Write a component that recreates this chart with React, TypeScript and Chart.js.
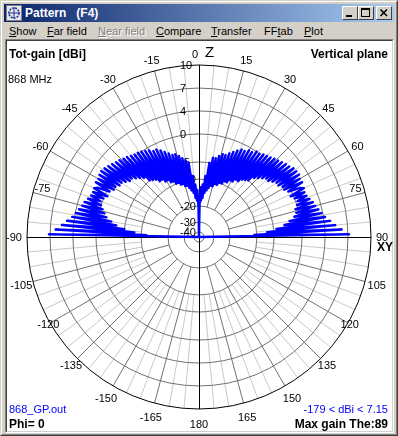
import React, { useEffect, useRef } from 'react';
import { Chart, registerables } from 'chart.js';

Chart.register(...registerables);

const FONT = '"Liberation Sans", Arial, sans-serif';

// ---------------- data ----------------
// Total gain [dBi] in the vertical plane (Phi = 0), 1 degree steps.
// Right half: theta = 0 .. 89
const gainRight = [
  -179, -20, -13, -18, -12, -17, -9, -15, -5, -14,
  -4, -13, -4, -12, -3.5, -12, -3, -11, -3, -11,
  -2.5, -10, -2, -10, -1.5, -9, -1, -9, -1, -8,
  -0.5, -8, -0.5, -7, 0, -7, 0, -6, 0.3, -5.5,
  0.5, -5, 0.7, -4, 1, -3.5, 1.2, -3, 1.5, -2.5,
  1.8, -2.5, 2, -2, 2.4, -1.5, 2.5, -1.5, 2.6, -1,
  2.3, -1, 2.4, -0.5, 1.5, 2.2, -0.5, 2, 0, 2.1,
  0.3, 2.4, 0, 2.8, -0.5, 3, -0.5, 3.4, -1, 3.8,
  -2, 4.2, -3, 4.8, -4.5, 5.4, -7, 6.2, -11, 7.15,
];
// Left half: theta = -1 .. -89
const gainLeft = [
  -20, -14, -18, -12, -17, -9, -15, -5, -14,
  -4.5, -13, -4, -12, -3.5, -12, -3, -11, -3, -11,
  -2.5, -10, -2, -10, -1.5, -9, -1, -9, -1, -8,
  -0.5, -8, -0.3, -7, 0, -7, 0.2, -6, 0.3, -5.5,
  0.5, -5, 0.8, -4, 1, -3.5, 1.3, -3, 1.5, -2.5,
  1.8, -2.5, 2.1, -2, 2.4, -1.5, 2.6, -1.5, 2.5, -1,
  2.3, -1, 2.4, -0.5, 1.6, 2.2, -0.5, 2.1, 0, 2.2,
  0.3, 2.5, 0, 2.9, -0.5, 3.1, -1, 3.5, -1.5, 3.9,
  -2.5, 4.3, -3.5, 4.9, -5, 5.5, -8, 6.3, -12, 7.15,
];
const minGain = -179; // below the horizon (theta 90 .. 270)
const maxGain = 7.15;
const maxGainTheta = 89;
const phiValue = 0;
const freqText = '868 MHz';
const fileName = '868_GP.out';

// radial grid (dBi) and angular ticks (degrees)
const gridDb = [-40, -30, -20, -10, -5, 0, 4, 7, 10];
const angleTicks = [0, 15, 30, 45, 60, 75, 90, 105, 120, 135, 150, 165, 180, -165, -150, -135, -120, -105, -90, -75, -60, -45, -30, -15];

// plot scale: dBi -> fraction of outer radius (as drawn by the program)
const scaleDb = [-50, -40, -30, -20, -10, -5, 0, 4, 7, 10];
const scaleFrac = [0, 0.029, 0.087, 0.18, 0.337, 0.436, 0.599, 0.733, 0.866, 1];

function dbToR(db: number): number {
  if (db <= scaleDb[0]) return 0;
  if (db >= scaleDb[scaleDb.length - 1]) return 1;
  for (let i = 1; i < scaleDb.length; i++) {
    if (db <= scaleDb[i]) {
      const t = (db - scaleDb[i - 1]) / (scaleDb[i] - scaleDb[i - 1]);
      return scaleFrac[i - 1] + t * (scaleFrac[i] - scaleFrac[i - 1]);
    }
  }
  return 1;
}

// label distance outside the outer circle, by |angle| ([gap, dy])
const labelGap: Record<number, [number, number]> = {
  15: [11, 0], 30: [10, 0], 45: [11, 0], 60: [11, 0], 75: [-10, -7], 105: [12, 0], 120: [2, 0],
  135: [9, 0], 150: [14, 0], 165: [14, 0], 180: [15, 0],
};

const polarDecor = {
  id: 'polarDecor',
  beforeDraw(chart: any) {
    const s = chart.scales.r;
    const ctx = chart.ctx;
    ctx.save();
    ctx.lineWidth = 1;
    for (let a = 5; a < 360; a += 5) {
      if (a % 90 === 0) continue;
      const major = a % 15 === 0;
      const p0 = s.getPointPositionForValue(a, dbToR(major ? -20 : -10));
      const p1 = s.getPointPositionForValue(a, 1);
      ctx.strokeStyle = major ? '#707070' : '#c8c8c8';
      ctx.beginPath();
      ctx.moveTo(p0.x, p0.y);
      ctx.lineTo(p1.x, p1.y);
      ctx.stroke();
    }
    ctx.restore();
  },
  beforeDatasetsDraw(chart: any) {
    const s = chart.scales.r;
    const ctx = chart.ctx;
    const cx = s.xCenter;
    const cy = s.yCenter;
    const R = s.drawingArea;
    ctx.save();
    // axes
    ctx.strokeStyle = '#000';
    ctx.lineWidth = 1;
    ctx.beginPath();
    ctx.moveTo(cx + 0.5, cy - R);
    ctx.lineTo(cx + 0.5, cy + R);
    ctx.moveTo(cx - R, cy + 0.5);
    ctx.lineTo(cx + R, cy + 0.5);
    ctx.stroke();

    // radial tick labels
    ctx.fillStyle = '#000';
    ctx.font = '11px ' + FONT;
    ctx.textAlign = 'left';
    ctx.textBaseline = 'middle';
    gridDb.forEach((d) => {
      const r = s.getDistanceFromCenterForValue(dbToR(d));
      ctx.fillText(String(d), cx - 19, cy - r + 1);
    });

    // angle labels
    angleTicks.forEach((a) => {
      const idx = ((a % 360) + 360) % 360;
      if (a === 0) {
        const p = s.getPointPosition(idx, R + 12);
        ctx.textAlign = 'right';
        ctx.font = '11px ' + FONT;
        ctx.fillText('0', p.x - 1, p.y + 2);
        ctx.textAlign = 'left';
        ctx.font = '15px ' + FONT;
        ctx.fillText('Z', p.x + 6, p.y);
        return;
      }
      if (a === 90) {
        const p = s.getPointPosition(idx, R + 5);
        ctx.textAlign = 'left';
        ctx.font = '11px ' + FONT;
        ctx.fillText('90', p.x, p.y + 1);
        ctx.font = 'bold 12px ' + FONT;
        ctx.fillText('XY', p.x + 1, p.y + 11);
        return;
      }
      const [gap, dy] = a === -90 ? [13, 0] : (labelGap[Math.abs(a)] ?? [11, 0]);
      const p = s.getPointPosition(idx, R + gap);
      ctx.textAlign = 'center';
      ctx.font = '11px ' + FONT;
      ctx.fillText(String(a), p.x, p.y + 1 + dy);
    });
    ctx.restore();
  },
};

function Txt(props: any) {
  const { x, base, size = 11, bold = false, color = '#000', align = 'left', children, extra } = props;
  const style: any = {
    position: 'absolute',
    top: base - 0.8465 * size,
    fontSize: size,
    lineHeight: size + 'px',
    fontWeight: bold ? 700 : 400,
    color,
    fontFamily: FONT,
    whiteSpace: 'pre',
    ...(extra || {}),
  };
  if (align === 'right') style.right = 398 - x;
  else style.left = x;
  return <div style={style}>{children}</div>;
}

const menuItems = [
  { t: 'Show', x: 9, u: 0 },
  { t: 'Far field', x: 47, u: 0 },
  { t: 'Near field', x: 98, u: 0, off: true },
  { t: 'Compare', x: 156, u: 0 },
  { t: 'Transfer', x: 211, u: 0 },
  { t: 'FFtab', x: 264, u: 2 },
  { t: 'Plot', x: 304, u: 0 },
];

function CapBtn({ x, kind }: { x: number; kind: string }) {
  return (
    <div
      style={{
        position: 'absolute', left: x, top: 6, width: 16, height: 14, boxSizing: 'border-box',
        background: '#D4D0C8', borderTop: '1px solid #fff', borderLeft: '1px solid #fff',
        borderRight: '1px solid #404040', borderBottom: '1px solid #404040',
      }}
    >
      <svg width="14" height="12" style={{ position: 'absolute', left: 0, top: 0 }}>
        {kind === 'min' && <rect x="3" y="8" width="6" height="2" fill="#000" />}
        {kind === 'max' && (
          <g>
            <rect x="2.5" y="1.5" width="8" height="8" fill="none" stroke="#000" />
            <rect x="2" y="1" width="9" height="2" fill="#000" />
          </g>
        )}
        {kind === 'close' && (
          <g stroke="#000" strokeWidth="1.6">
            <line x1="3.5" y1="2.5" x2="10" y2="9" />
            <line x1="10" y1="2.5" x2="3.5" y2="9" />
          </g>
        )}
      </svg>
    </div>
  );
}

export default function App() {
  const ref = useRef<HTMLCanvasElement | null>(null);

  useEffect(() => {
    document.body.style.margin = '0';
    const labels = Array.from({ length: 360 }, (_, i) => String(i));
    const gains = labels.map((_, i) => {
      if (i <= 89) return gainRight[i];
      if (i >= 271) return gainLeft[360 - i - 1];
      return minGain;
    });
    const chart = new Chart(ref.current as HTMLCanvasElement, {
      type: 'radar',
      data: {
        labels,
        datasets: [
          {
            data: gains.map(dbToR),
            borderColor: '#0000FF',
            borderWidth: 2.4,
            borderJoinStyle: 'round',
            pointRadius: 0,
            pointHoverRadius: 0,
            fill: false,
            tension: 0,
          } as any,
        ],
      },
      options: {
        responsive: false,
        animation: false,
        devicePixelRatio: 1,
        layout: { padding: { left: 27, right: 27, top: 65, bottom: 27 } },
        plugins: { legend: { display: false }, tooltip: { enabled: false } },
        scales: {
          r: {
            min: 0,
            max: 1,
            angleLines: { display: false },
            pointLabels: { display: false },
            ticks: { display: false },
            grid: {
              circular: true,
              lineWidth: 1,
              color: (c: any) => (c.tick && c.tick.value >= 0.999 ? '#000000' : '#707070'),
            },
            afterBuildTicks: (scale: any) => {
              scale.ticks = [{ value: 0 }, ...gridDb.map((d) => ({ value: dbToR(d) }))];
            },
          } as any,
        },
      },
      plugins: [polarDecor],
    });
    return () => chart.destroy();
  }, []);

  return (
    <div style={{ position: 'fixed', left: 0, top: 0, width: 398, height: 436, background: '#D4D0C8', overflow: 'hidden', fontFamily: FONT }}>
      {/* window frame */}
      <div style={{ position: 'absolute', left: 0, top: 0, width: 398, height: 436, boxSizing: 'border-box', borderTop: '1px solid #D4D0C8', borderLeft: '1px solid #D4D0C8', borderRight: '1px solid #404040', borderBottom: '1px solid #404040' }} />
      <div style={{ position: 'absolute', left: 1, top: 1, width: 396, height: 434, boxSizing: 'border-box', borderTop: '1px solid #fff', borderLeft: '1px solid #fff', borderRight: '1px solid #808080', borderBottom: '1px solid #808080' }} />
      {/* title bar */}
      <div style={{ position: 'absolute', left: 4, top: 4, width: 390, height: 18, background: 'linear-gradient(to right, #0A246A, #A6CAF0)' }} />
      <div style={{ position: 'absolute', left: 6, top: 5, width: 16, height: 16, background: '#E8E8E8', boxSizing: 'border-box', border: '1px solid #808080' }}>
        <svg width="14" height="14" style={{ position: 'absolute', left: 0, top: 0 }}>
          <circle cx="7" cy="7" r="5" fill="none" stroke="#2030A0" strokeWidth="1.5" strokeDasharray="2 1" />
          <line x1="7" y1="1" x2="7" y2="13" stroke="#2030A0" />
          <line x1="1" y1="7" x2="13" y2="7" stroke="#2030A0" />
        </svg>
      </div>
      <Txt x={25} base={17} size={12} bold color="#fff">{'Pattern   (F4)'}</Txt>
      <CapBtn x={342} kind="min" />
      <CapBtn x={358} kind="max" />
      <CapBtn x={376} kind="close" />
      {/* menu bar */}
      {menuItems.map((m) => (
        <Txt key={m.t} x={m.x} base={35.5} size={11} color={m.off ? '#808080' : '#000'} extra={m.off ? { textShadow: '1px 1px 0 #fff' } : undefined}>
          {m.t.slice(0, m.u)}
          <span style={{ textDecoration: 'underline' }}>{m.t.charAt(m.u)}</span>
          {m.t.slice(m.u + 1)}
        </Txt>
      ))}
      {/* client area */}
      <div style={{ position: 'absolute', left: 5, top: 39, width: 389, height: 394, boxSizing: 'border-box', borderTop: '1px solid #808080', borderLeft: '1px solid #808080', borderRight: '1px solid #fff', borderBottom: '1px solid #fff' }}>
        <div style={{ position: 'absolute', left: 0, top: 0, right: 0, bottom: 0, background: '#fff', borderTop: '1px solid #404040', borderLeft: '1px solid #404040', borderRight: '1px solid #D4D0C8', borderBottom: '1px solid #D4D0C8' }} />
      </div>
      <canvas ref={ref} width={398} height={436} style={{ position: 'absolute', left: 0, top: 0, width: 398, height: 436 }} />
      {/* plot annotations */}
      <Txt x={9} base={58} size={12} bold>Tot-gain [dBi]</Txt>
      <Txt x={8} base={83.5} size={11}>{freqText}</Txt>
      <Txt x={388} base={58} size={12} bold align="right">Vertical plane</Txt>
      <Txt x={9} base={413.5} size={11} color="#0000FF">{fileName}</Txt>
      <Txt x={388} base={413.5} size={11} color="#0000FF" align="right">{`${minGain} < dBi < ${maxGain}`}</Txt>
      <Txt x={9} base={428} size={12} bold>{`Phi= ${phiValue}`}</Txt>
      <Txt x={388} base={428} size={12} bold align="right">{`Max gain The:${maxGainTheta}`}</Txt>
    </div>
  );
}
